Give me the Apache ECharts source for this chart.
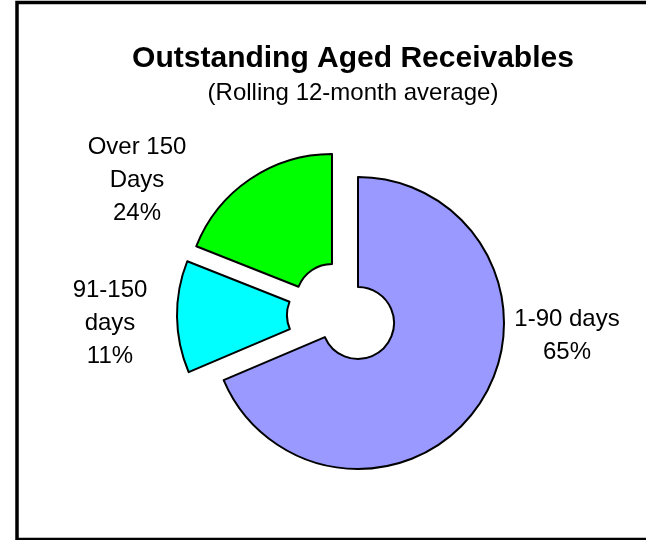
<!DOCTYPE html>
<html>
<head>
<meta charset="utf-8">
<title>Outstanding Aged Receivables</title>
<script src="https://cdn.jsdelivr.net/npm/echarts@6/dist/echarts.min.js"></script>
<style>
  html, body { margin: 0; padding: 0; background: #fff; }
  #main { width: 646px; height: 540px; }
</style>
</head>
<body>
<div id="main"></div>
<script>
// slices, clockwise from 12 o'clock
var categories = ['1-90 days', '91-150 days', 'Over 150 Days'];
var sliceShares = [68.6, 12.4, 19.0];      // angular share as drawn
var percentLabels = ['65%', '11%', '24%'];  // percentages printed on the chart
var labelNames = ['1-90 days', '91-150\ndays', 'Over 150\nDays'];
var sliceColors = ['#9999ff', '#00ffff', '#00ff00'];

var FONT = '"Liberation Sans", Arial, sans-serif';

// every slice is exploded on its own, so each one gets its own pie
var centers = [[358, 323], [323, 315], [332, 300]];
var labelPos = [[567, 336], [110, 323], [137, 180]];

var chart = echarts.init(document.getElementById('main'));

var series = categories.map(function (cat, k) {
  return {
    type: 'pie',
    silent: true,
    animation: false,
    radius: [36, 146],
    center: centers[k],
    startAngle: 90,
    clockwise: true,
    avoidLabelOverlap: false,
    labelLine: { show: false },
    data: categories.map(function (name, i) {
      var mine = i === k;
      return {
        name: name,
        value: sliceShares[i],
        itemStyle: mine
          ? { color: sliceColors[i], borderColor: '#000', borderWidth: 2 }
          : { color: 'rgba(0,0,0,0)', borderWidth: 0 },
        label: mine
          ? {
              show: true,
              position: 'outside',
              formatter: labelNames[i] + '\n' + percentLabels[i],
              color: '#000',
              fontFamily: FONT,
              fontSize: 24,
              lineHeight: 33,
              align: 'center'
            }
          : { show: false }
      };
    }),
    labelLayout: function () {
      return { x: labelPos[k][0], y: labelPos[k][1], align: 'center', verticalAlign: 'middle' };
    }
  };
});

chart.setOption({
  backgroundColor: '#fff',
  animation: false,
  title: [
    {
      text: 'Outstanding Aged Receivables',
      left: 353,
      top: 44,
      padding: 0,
      textAlign: 'center',
      textStyle: { color: '#000', fontFamily: FONT, fontSize: 30, fontWeight: 'bold' }
    },
    {
      text: '(Rolling 12-month average)',
      left: 353,
      top: 81,
      padding: 0,
      textAlign: 'center',
      textStyle: { color: '#000', fontFamily: FONT, fontSize: 24, fontWeight: 'normal' }
    }
  ],
  graphic: [
    {
      type: 'rect',
      silent: true,
      shape: { x: 17, y: 2.5, width: 700, height: 537 },
      style: { fill: 'none', stroke: '#000', lineWidth: 3.5 }
    }
  ],
  series: series
});
</script>
</body>
</html>
